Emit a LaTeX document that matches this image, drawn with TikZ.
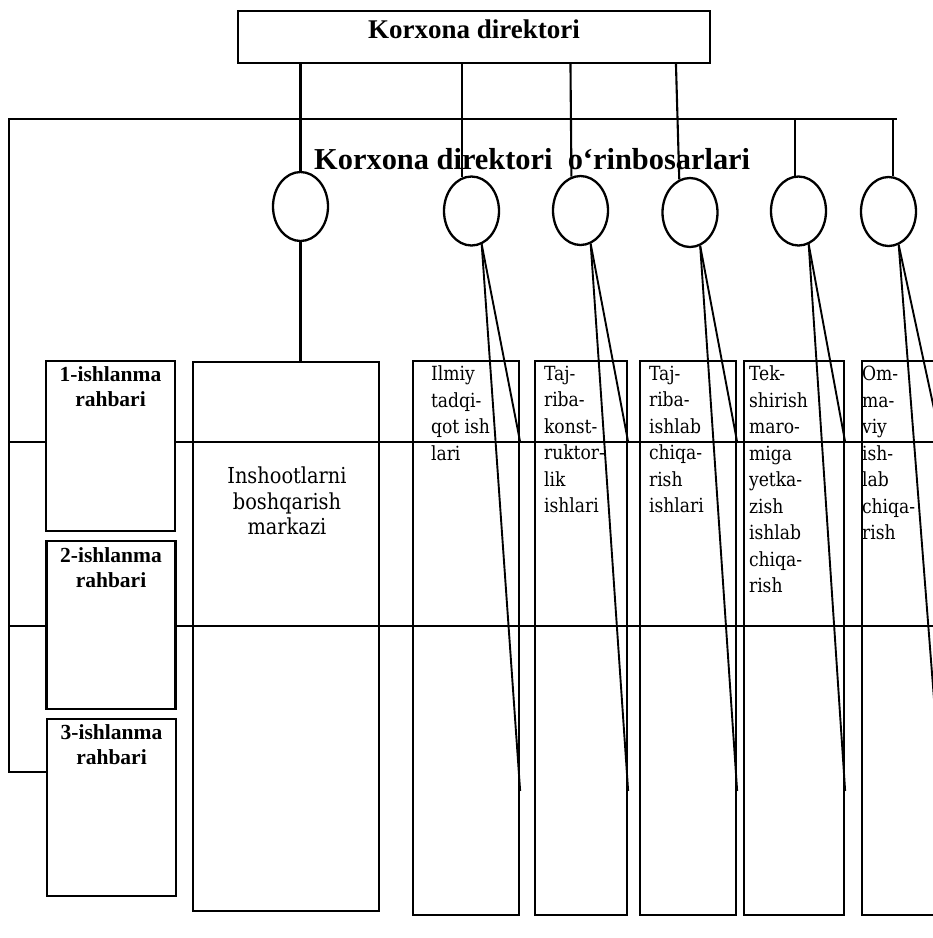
\documentclass[tikz,border=0pt]{standalone}
\usepackage{fontspec}
\setmainfont{Liberation Serif}
\newfontfamily\colfont[FakeStretch=0.88]{DejaVu Serif}
\usetikzlibrary{shapes.geometric,calc}
\begin{document}
\begin{tikzpicture}[x=1pt,y=-1pt,
  box/.style={draw, inner sep=0pt, line width=2.3pt},
  ell/.style={draw, ellipse, minimum width=55pt, minimum height=69pt, inner sep=0pt, line width=2.3pt},
  link/.style={line width=2.1pt},
  fan/.style={line width=1.9pt},
  coltxt/.style={anchor=north west, align=left, inner sep=0pt, font=\colfont\fontsize{19.5}{26.5}\selectfont},
  leadtxt/.style={anchor=north, align=center, inner sep=0pt, font=\bfseries\fontsize{21.5}{24.5}\selectfont}]
\useasboundingbox (0,0) rectangle (933,938);
\clip (0,0) rectangle (933,938);

% top box
\node[box, minimum width=472pt, minimum height=52pt, text height=8pt, text depth=6pt,
      font=\bfseries\fontsize{27}{30}\selectfont] (dir) at (474,37) {Korxona direktori};

% bus
\coordinate (busL) at (9,119);
\coordinate (busR) at (897,119);

% deputies
\node[ell] (c1) at (300.5,206.5) {};
\node[ell] (c2) at (471.5,211) {};
\node[ell] (c3) at (580.5,210.5) {};
\node[ell] (c4) at (690,212.5) {};
\node[ell] (c5) at (798.5,211) {};
\node[ell] (c6) at (888.5,211.5) {};

\node[anchor=base west, inner sep=0pt, font=\bfseries\fontsize{30.4}{33}\selectfont] (sub) at (314,169)
  {Korxona direktori\hspace{0.5em}o‘rinbosarlari};

% boxes
\node[box, minimum width=186pt, minimum height=549pt] (bb) at (286,636.5) {};
\node[box, minimum width=106pt, minimum height=554pt] (k1) at (466,638) {};
\node[box, minimum width=92pt, minimum height=554pt] (k2) at (581,638) {};
\node[box, minimum width=96pt, minimum height=554pt] (k3) at (688,638) {};
\node[box, minimum width=100pt, minimum height=554pt] (k4) at (794,638) {};
\node[box, minimum width=78pt, minimum height=554pt] (k5) at (901,638) {};

\node[box, minimum width=129pt, minimum height=170pt] (b1) at (110.5,446) {};
\node[box, minimum width=129pt, minimum height=168pt] (b2) at (111,625) {};
\node[box, minimum width=129pt, minimum height=177pt] (b3) at (111.5,807.5) {};

% connectors from director
\draw[link] (dir.south -| c1.north) -- (c1.north);
\draw[link] (dir.south -| c2.105) -- (c2.105);
\draw[link] ($(dir.south west)!0.7034!(dir.south east)$) -- (c3.105);
\draw[link] ($(dir.south west)!0.9258!(dir.south east)$) -- (c4.108);

% bus and left spine
\coordinate (r1) at (9,442);
\coordinate (r2) at (9,626);
\coordinate (r3) at (9,772);
\coordinate (e1) at (933,442);
\coordinate (e2) at (933,626);
\draw[link] (busR) -- (busL) -- (r3) -- (r3 -| b3.west);
\draw[link] (busL -| c5.95) -- (c5.95);
\draw[link] (busL -| c6.82) -- (c6.82);
\draw[link] (r1) -- (r1 -| b1.west);
\draw[link] (r1 -| b1.east) -- (e1);
\draw[link] (r2) -- (r2 -| b2.west);
\draw[link] (r2 -| b2.east) -- (e2);

% first deputy to centre
\draw[link] (c1.south) -- (c1.south |- bb.north);

% fans
\draw[fan] (c2.287) -- (k1.east |- r1);
\draw[fan] (c2.287) -- ($(k1.north east)!0.775!(k1.south east)$);
\draw[fan] (c3.287) -- (k2.east |- r1);
\draw[fan] (c3.287) -- ($(k2.north east)!0.775!(k2.south east)$);
\draw[fan] (c4.287) -- (k3.east |- r1);
\draw[fan] (c4.287) -- ($(k3.north east)!0.775!(k3.south east)$);
\draw[fan] (c5.287) -- (k4.east |- r1);
\draw[fan] (c5.287) -- ($(k4.north east)!0.775!(k4.south east)$);
\draw[fan] (c6.287) -- (k5.east |- r1);
\draw[fan] (c6.287) -- ($(k5.north east)!0.775!(k5.south east)$);

% texts
\node[anchor=north, align=center, inner sep=0pt, font=\colfont\fontsize{22}{25.5}\selectfont] (bt)
  at ($(bb.north)+(1,106)$) {Inshootlarni\\boshqarish\\markazi};
\node[leadtxt] (l1) at ($(b1.north)+(0,7)$) {1-ishlanma\\rahbari};
\node[leadtxt] (l2) at ($(b2.north)+(0,8)$) {2-ishlanma\\rahbari};
\node[leadtxt] (l3) at ($(b3.north)+(0,7)$) {3-ishlanma\\rahbari};

\node[coltxt] (t1) at ($(k1.north west)+(19,6)$) {Ilmiy\\tadqi-\\qot ish\\lari};
\node[coltxt] (t2) at ($(k2.north west)+(10,6)$) {Taj-\\riba-\\konst-\\ruktor-\\lik\\ishlari};
\node[coltxt] (t3) at ($(k3.north west)+(10,6)$) {Taj-\\riba-\\ishlab\\chiqa-\\rish\\ishlari};
\node[coltxt] (t4) at ($(k4.north west)+(6,6)$) {Tek-\\shirish\\maro-\\miga\\yetka-\\zish\\ishlab\\chiqa-\\rish};
\node[coltxt] (t5) at ($(k5.north west)+(1,6)$) {Om-\\ma-\\viy\\ish-\\lab\\chiqa-\\rish};
\end{tikzpicture}
\end{document}
